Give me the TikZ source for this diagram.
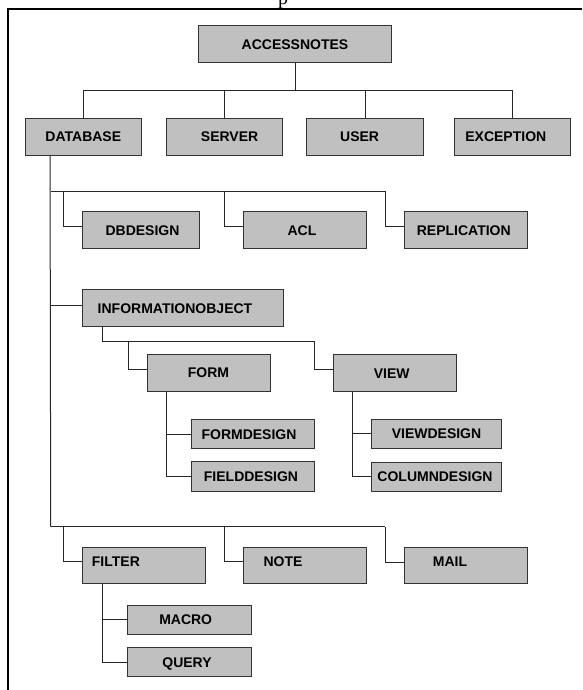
\documentclass[tikz,border=0pt]{standalone}
\usepackage{fontspec}
\setmainfont{Liberation Sans}
\newfontfamily\captionserif{Liberation Serif}
\begin{document}
\begin{tikzpicture}[x=1pt,y=-1pt,
  box/.style={draw=black!80, fill=boxgray, line width=1pt, inner sep=0pt,
    font=\fontsize{14}{16}\selectfont\bfseries, text height=10pt, text depth=0pt},
  tx/.style={execute at begin node={\hspace*{#1}}},
  raise/.style={text depth=#1},
  link/.style={draw=black!85, line width=1pt},
  frame/.style={draw=black, line width=2.5pt}]
\definecolor{boxgray}{RGB}{192,192,192}
\useasboundingbox (0,0) rectangle (582,690);

% caption text above the frame, cut by the page edge
\node[anchor=base, inner sep=0pt, font=\captionserif\fontsize{20}{24}\selectfont] (cap) at (283,4.5) {p};

% page frame (top and left rules)
\draw[frame] (582,9) -- (7.8,9) -- (7.8,690);

% top level
\node[box, minimum width=193.4pt, minimum height=37.2pt] (acc) at (295,44.1) {ACCESSNOTES};
\node[box, minimum width=116.5pt, minimum height=37pt] (db)  at (83.3,136.8) {DATABASE};
\node[box, minimum width=116.5pt, minimum height=37pt, tx=10.6pt] (srv) at (224.3,136.8) {SERVER};
\node[box, minimum width=116.5pt, minimum height=37pt, tx=-10.8pt] (usr) at (365,136.8) {USER};
\node[box, minimum width=116.5pt, minimum height=37pt, tx=-13.6pt] (exc) at (512.6,136.8) {EXCEPTION};

% database children
\node[box, minimum width=116.6pt, minimum height=37pt, tx=3pt] (dbd) at (141,230.2) {DBDESIGN};
\node[box, minimum width=123pt, minimum height=37pt, tx=-6.4pt] (acl) at (305.2,230.2) {ACL};
\node[box, minimum width=123.3pt, minimum height=37pt, tx=-3.8pt] (rep) at (465.7,230.2) {REPLICATION};
\node[box, minimum width=200.6pt, minimum height=36.7pt, tx=-16pt] (info) at (183,308.3) {INFORMATIONOBJECT};

\node[box, minimum width=123pt, minimum height=36.7pt] (form) at (208.5,372.7) {FORM};
\node[box, minimum width=123pt, minimum height=37.4pt, tx=-6.2pt] (view) at (394.8,373) {VIEW};

\node[box, minimum width=123.3pt, minimum height=29.4pt, tx=-8.6pt] (fdes) at (253.3,434) {FORMDESIGN};
\node[box, minimum width=123.3pt, minimum height=30pt, tx=-4.6pt] (fld) at (253.3,476.7) {FIELDDESIGN};
\node[box, minimum width=129.6pt, minimum height=29.3pt] (vdes) at (436.5,433.7) {VIEWDESIGN};
\node[box, minimum width=129.6pt, minimum height=29.3pt, tx=-3pt] (col) at (436.5,476.7) {COLUMNDESIGN};

\node[box, minimum width=123pt, minimum height=36.3pt, tx=-56.6pt, raise=9.6pt] (filt) at (144.2,565.8) {FILTER};
\node[box, minimum width=123pt, minimum height=36.3pt, tx=-44.4pt, raise=9.6pt] (note) at (305.2,565.8) {NOTE};
\node[box, minimum width=123pt, minimum height=36.3pt, tx=-31pt, raise=9.6pt] (mail) at (465.5,565.8) {MAIL};

\node[box, minimum width=123.7pt, minimum height=29pt, tx=-7pt] (mac) at (189.2,619.5) {MACRO};
\node[box, minimum width=123.7pt, minimum height=29.4pt, tx=-4.4pt] (qry) at (189.2,662) {QUERY};

% bus coordinates
\coordinate (top) at (295,90.5);
\coordinate (dbtop) at ([xshift=25.5pt]db.south west);
\coordinate (busA) at (50.7,191);
\coordinate (busB) at (50.7,526.7);
\coordinate (infoout) at ([xshift=20pt]info.south west);
\coordinate (formout) at ([xshift=19.7pt]form.south west);
\coordinate (viewout) at ([xshift=20pt]view.south west);
\coordinate (filtout) at ([xshift=20pt]filt.south west);

% top level connectors
\draw[link] (acc.south) -- (top);
\draw[link] (db.north) |- (top) -| (exc.north);
\draw[link] (srv.north) -- (srv.north |- top);
\draw[link] (usr.north) -- (usr.north |- top);

% database trunk and buses
\draw[link] (dbtop) -- (busB);
\draw[link] (busA) -- (385.3,191);
\draw[link] (busB) -- (385.3,526.7);
\draw[link] (63.3,191) |- ([yshift=3.5pt]dbd.west);
\draw[link] (224.7,191) |- ([yshift=3.5pt]acl.west);
\draw[link] (385.3,191) |- ([yshift=3.5pt]rep.west);
\draw[link] (50.7,305) -- ([yshift=3.3pt]info.west);
\draw[link] (63.3,526.7) |- ([yshift=4.1pt]filt.west);
\draw[link] (224.7,526.7) |- ([yshift=4.1pt]note.west);
\draw[link] (385.3,526.7) |- ([yshift=3.5pt]mail.west);

% information object
\draw[link] (infoout) |- (314.3,341) |- ([yshift=3.7pt]view.west);
\draw[link] (128.3,341) |- ([yshift=3.4pt]form.west);

% form and view
\draw[link] (formout) |- (fld.west);
\draw[link] (formout |- fdes.west) -- (fdes.west);
\draw[link] (viewout) |- (col.west);
\draw[link] (viewout |- vdes.west) -- (vdes.west);

% filter
\draw[link] (filtout) |- (qry.west);
\draw[link] (filtout |- mac.west) -- (mac.west);
\end{tikzpicture}
\end{document}
